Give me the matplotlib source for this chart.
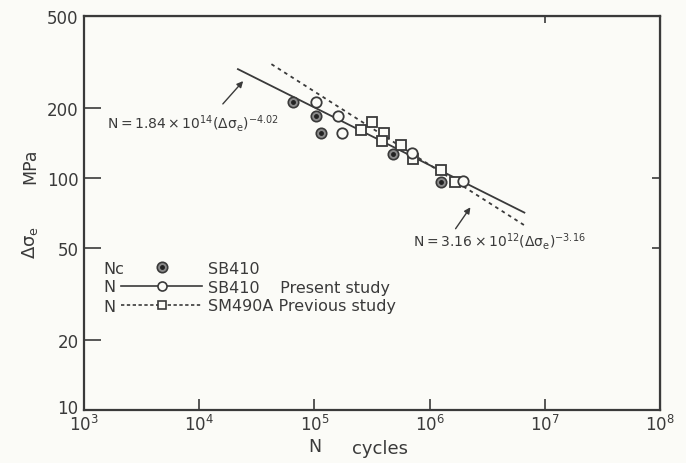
import numpy as np
import matplotlib
matplotlib.use("Agg")
import matplotlib.pyplot as plt
import matplotlib.transforms as mtransforms
from matplotlib.lines import Line2D
from matplotlib.legend_handler import HandlerTuple

plt.rcParams['font.family'] = ['DejaVu Sans']
plt.rcParams['mathtext.default'] = 'regular'

# ---- data ----
nc_N = [6.5e4, 1.03e5, 1.14e5, 4.8e5, 1.26e6]
nc_S = [213, 185, 156, 127, 96]

sb410_N = [1.03e5, 1.6e5, 1.74e5, 7.0e5, 1.95e6]
sb410_S = [213, 185, 156, 128, 97]

sm490_N = [3.16e5, 2.54e5, 4.0e5, 3.9e5, 5.65e5, 7.2e5, 1.26e6, 1.66e6]
sm490_S = [174, 161, 156, 144, 139, 121, 108, 96]

# regression lines: N = C * S^-m  (drawn between the stress limits shown)
fit1_C, fit1_m, fit1_S = 1.84e14, 4.02, [295, 71]
fit2_C, fit2_m, fit2_S = 3.16e12, 3.16, [310, 62]

xticks = [1e3, 1e4, 1e5, 1e6, 1e7, 1e8]
xticklabels = [r'$10^3$', r'$10^4$', r'$10^5$', r'$10^6$', r'$10^7$', r'$10^8$']
yticks = [10, 20, 50, 100, 200, 500]
yticklabels = ['10', '20', '50', '100', '200', '500']

legend_left = ['Nc', 'N', 'N']
legend_labels = ['SB410', 'SB410    Present study', 'SM490A Previous study']

ink = '#3a3a3a'
bg = '#fbfbf7'

W, H = 686, 464
fig = plt.figure(figsize=(W / 100, H / 100), dpi=100, facecolor=bg)
L, R, T, B = 84, 660, 17, 411
ax = fig.add_axes([L / W, 1 - B / H, (R - L) / W, (B - T) / H], facecolor=bg)
ax.set_xscale('log')
ax.set_yscale('log')
ax.set_xlim(1e3, 1e8)
ax.set_ylim(10, 500)

# fitted lines
S1 = np.geomspace(fit1_S[0], fit1_S[1], 50)
ax.plot(fit1_C * S1 ** (-fit1_m), S1, color=ink, lw=1.3, zorder=2)
S2 = np.geomspace(fit2_S[0], fit2_S[1], 50)
ax.plot(fit2_C * S2 ** (-fit2_m), S2, color=ink, lw=1.3, ls=(0, (2, 2.2)), zorder=2)

# points
ax.plot(sm490_N, sm490_S, ls='none', marker='s', ms=6.5, mfc=bg, mec=ink, mew=1.3, zorder=3)
ax.plot(sb410_N, sb410_S, ls='none', marker='o', ms=7.5, mfc=bg, mec=ink, mew=1.3, zorder=4)
ax.plot(nc_N, nc_S, ls='none', marker='o', ms=7.5, mfc='#8a8a8a', mec=ink, mew=1.2, zorder=5)
ax.plot(nc_N, nc_S, ls='none', marker='o', ms=2.5, mfc='#222222', mec='#222222', zorder=6)

# axes styling
for s in ax.spines.values():
    s.set_color(ink)
    s.set_linewidth(1.6)
ax.set_xticks(xticks)
ax.set_xticklabels(xticklabels, fontsize=12, color=ink)
ax.set_yticks(yticks)
ax.set_yticklabels(yticklabels, fontsize=12, color=ink)
ax.minorticks_off()
ax.tick_params(axis='y', direction='in', length=12, width=1.2, color=ink, pad=4)
ax.tick_params(axis='x', direction='in', length=8, width=1.2, color=ink, pad=3)
# lift the lowest y label a little (as in the reference)
for lbl in ax.get_yticklabels():
    if lbl.get_text() == '10':
        lbl.set_transform(lbl.get_transform() +
                          mtransforms.ScaledTranslation(0, 4 / 100, fig.dpi_scale_trans))

# small extra ticks on top (1e7) and right (50, 100)
axt = ax.secondary_xaxis('top')
axt.set_xticks([1e7])
axt.set_xticklabels([''])
axt.tick_params(direction='in', length=5, width=1.2, color=ink)
axt.minorticks_off()
axr = ax.secondary_yaxis('right')
axr.set_yticks([50, 100])
axr.set_yticklabels(['', ''])
axr.tick_params(direction='in', length=6, width=1.2, color=ink)
axr.minorticks_off()

# axis labels
fig.text(315 / W, 1 - 447 / H, 'N', fontsize=12.5, color=ink, ha='center', va='center')
fig.text(380 / W, 1 - 449 / H, 'cycles', fontsize=13, color=ink, ha='center', va='center')
fig.text(30 / W, 1 - 242 / H, r'$\Delta\sigma_e$', fontsize=13, color=ink, rotation=90,
         ha='center', va='center')
fig.text(30 / W, 1 - 166 / H, 'MPa', fontsize=12.5, color=ink, rotation=90,
         ha='center', va='center')

# annotations
fig.text(107 / W, 1 - 124 / H, r'$N = 1.84\times10^{14}(\Delta\sigma_e)^{-4.02}$',
         fontsize=10, color=ink, ha='left', va='center')
ax.annotate('', xy=(245, H - 80), xycoords='figure pixels',
            xytext=(221, H - 107), textcoords='figure pixels',
            arrowprops=dict(arrowstyle='-|>', color=ink, lw=1.0, mutation_scale=9))
fig.text(413 / W, 1 - 242 / H, r'$N = 3.16\times10^{12}(\Delta\sigma_e)^{-3.16}$',
         fontsize=10, color=ink, ha='left', va='center')
ax.annotate('', xy=(472, H - 206), xycoords='figure pixels',
            xytext=(454, H - 232), textcoords='figure pixels',
            arrowprops=dict(arrowstyle='-|>', color=ink, lw=1.0, mutation_scale=9))

# legend (one row per entry)
h_nc = (Line2D([], [], ls='none', marker='o', ms=7.5, mfc='#8a8a8a', mec=ink, mew=1.2),
        Line2D([], [], ls='none', marker='o', ms=2.5, mfc='#222222', mec='#222222'))
h_sb = Line2D([], [], color=ink, lw=1.2, marker='o', ms=6.5, mfc=bg, mec=ink, mew=1.2)
h_sm = Line2D([], [], color=ink, lw=1.2, ls=(0, (2, 1.5)), marker='s', ms=5.5,
              mfc=bg, mec=ink, mew=1.2)
rows_y = [269, 288, 307]
for h, lab, left, y in zip([h_nc, h_sb, h_sm], legend_labels, legend_left, rows_y):
    fig.legend([h], [lab], handler_map={tuple: HandlerTuple(ndivide=1)},
               loc='center left', bbox_to_anchor=(121 / W, 1 - y / H),
               frameon=False, fontsize=11.5, handlelength=5.1, handletextpad=0.35,
               borderpad=0, borderaxespad=0, labelcolor=ink)
    fig.text(103 / W, 1 - y / H, left, fontsize=11.5, color=ink, ha='left', va='center')

fig.savefig('out.png', dpi=100, facecolor=bg)
